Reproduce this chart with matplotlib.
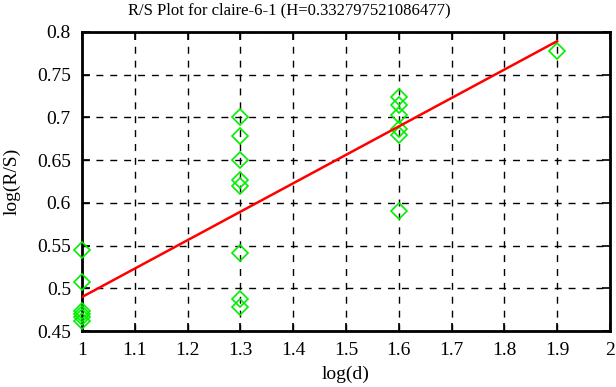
import numpy as np
import matplotlib
matplotlib.use('Agg')
import matplotlib.pyplot as plt

# data
log_d = [1.0, 1.0, 1.0, 1.0, 1.0, 1.0,
         1.3, 1.3, 1.3, 1.3, 1.3, 1.3, 1.3, 1.3,
         1.6, 1.6, 1.6, 1.6, 1.6, 1.6,
         1.9]
log_rs = [0.545, 0.507, 0.473, 0.470, 0.466, 0.462,
          0.701, 0.678, 0.650, 0.627, 0.620, 0.541, 0.488, 0.478,
          0.724, 0.714, 0.703, 0.686, 0.680, 0.591,
          0.778]
H = 0.332797521086477
title = 'R/S Plot for claire-6-1 (H=0.332797521086477)'
xticks = [1, 1.1, 1.2, 1.3, 1.4, 1.5, 1.6, 1.7, 1.8, 1.9, 2]
yticks = [0.45, 0.5, 0.55, 0.6, 0.65, 0.7, 0.75, 0.8]

plt.rcParams['font.family'] = ['Liberation Serif', 'DejaVu Serif']
plt.rcParams['font.size'] = 14

x = np.array(log_d)
y = np.array(log_rs)
b = y.mean() - H * x.mean()
xl = np.array([x.min(), x.max()])

fig = plt.figure(figsize=(6.16, 3.87), dpi=100)
ax = fig.add_axes([82/616, 1 - 331/387, (610-82)/616, (331-32)/387])
ax.plot(x, y, linestyle='none', marker='D', markersize=8.5, markerfacecolor='none',
        markeredgecolor='#00ee00', markeredgewidth=1.2, clip_on=False, zorder=3)
ax.plot(xl, H * xl + b, color='#ff0000', linewidth=1.8, zorder=4)

ax.set_xlim(1, 2)
ax.set_ylim(0.45, 0.8)
ax.set_xticks(xticks)
ax.set_xticklabels(['%g' % t for t in xticks])
ax.set_yticks(yticks)
ax.set_yticklabels(['%g' % t for t in yticks])
ax.grid(True, color='black', linestyle=(0, (5, 5)), linewidth=1)
ax.tick_params(direction='in', top=True, right=True, length=6, width=1.2, pad=8,
               labelsize=14)
for s in ax.spines.values():
    s.set_linewidth(2)
ax.set_xlabel('log(d)', labelpad=5)
ax.set_ylabel('log(R/S)', labelpad=12)
ax.set_title(title, fontsize=12, pad=13, x=0.392)

fig.savefig('out.png', dpi=100)
